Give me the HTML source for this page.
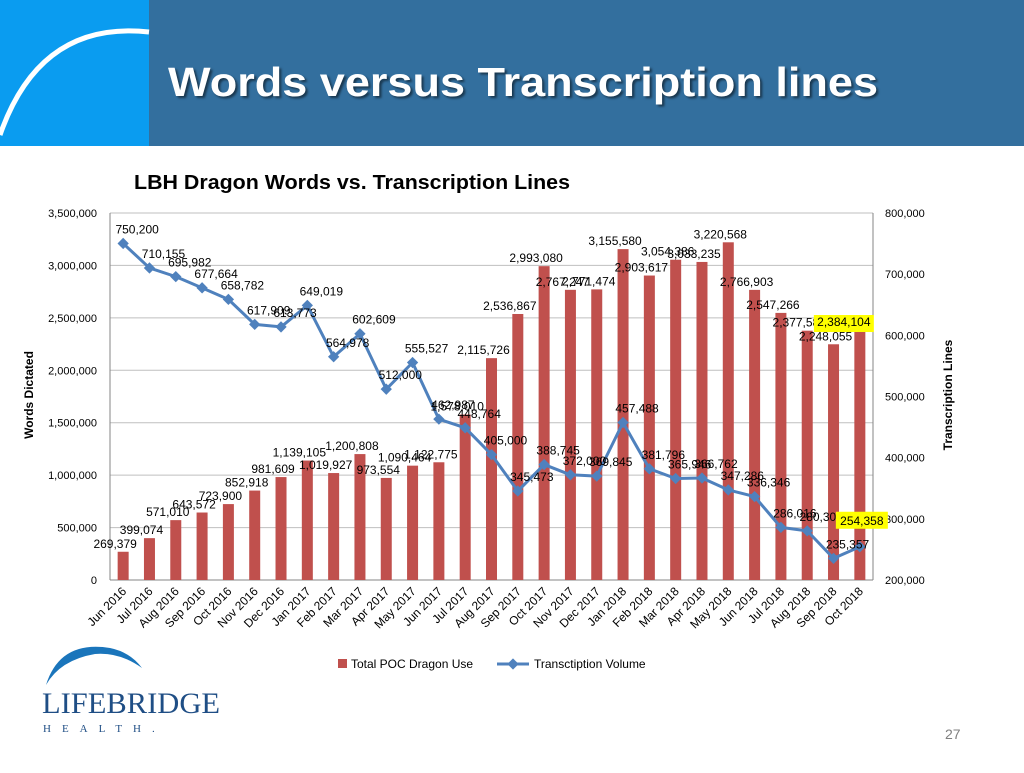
<!DOCTYPE html>
<html><head><meta charset="utf-8"><style>
body{margin:0;width:1024px;height:768px;overflow:hidden;background:#fff;font-family:"Liberation Sans",sans-serif}
</style></head><body>
<svg id="chart" width="1024" height="768" viewBox="0 0 1024 768" xmlns="http://www.w3.org/2000/svg" font-family="Liberation Sans, sans-serif">
<rect x="0" y="0" width="1024" height="146" fill="#336f9e"/>
<rect x="0" y="0" width="149" height="146" fill="#0a9cf0"/>
<path d="M0,135 Q40,20 149,32" stroke="#fff" stroke-width="5" fill="none"/>
<text x="168" y="96" font-size="41" font-weight="bold" fill="#fff" textLength="710" lengthAdjust="spacingAndGlyphs" style="text-shadow:2px 2px 2px rgba(0,0,0,.5)">Words versus Transcription lines</text>
<text x="134" y="189" font-size="20" font-weight="bold" fill="#000" textLength="436" lengthAdjust="spacingAndGlyphs">LBH Dragon Words vs. Transcription Lines</text>
<g id="plot"></g>
<text transform="translate(33,395) rotate(-90)" text-anchor="middle" font-size="12" font-weight="bold">Words Dictated</text>
<text transform="translate(952,395) rotate(-90)" text-anchor="middle" font-size="12" font-weight="bold">Transcription Lines</text>
<g>
<rect x="338" y="659" width="9" height="9" fill="#c0504d"/>
<text x="351" y="668" font-size="12">Total POC Dragon Use</text>
<line x1="497" y1="664" x2="529" y2="664" stroke="#4f81bd" stroke-width="3"/>
<rect x="509" y="660" width="8" height="8" fill="#4f81bd" transform="rotate(45 513 664)"/>
<text x="534" y="668" font-size="12">Transctiption Volume</text>
</g>
<g>
<path d="M46,685 Q60,640 110,648 Q130,652 142,668 Q120,652 95,654 Q60,660 46,685Z" fill="#1a75bb"/>
<text x="42" y="713" font-family="Liberation Serif, serif" font-size="30" fill="#1f4e85" textLength="178" lengthAdjust="spacingAndGlyphs">LIFEBRIDGE</text>
<text x="43" y="732" font-family="Liberation Serif, serif" font-size="11" fill="#1f4e85" letter-spacing="11">HEALTH.</text>
</g>
<text x="945" y="739" font-size="14" fill="#7f7f7f">27</text>
</svg>
<script>
const categories=["Jun 2016","Jul 2016","Aug 2016","Sep 2016","Oct 2016","Nov 2016","Dec 2016","Jan 2017","Feb 2017","Mar 2017","Apr 2017","May 2017","Jun 2017","Jul 2017","Aug 2017","Sep 2017","Oct 2017","Nov 2017","Dec 2017","Jan 2018","Feb 2018","Mar 2018","Apr 2018","May 2018","Jun 2018","Jul 2018","Aug 2018","Sep 2018","Oct 2018"];
const wordsDictated=[269379,399074,571010,643572,723900,852918,981609,1139105,1019927,1200808,973554,1090464,1122775,1578010,2115726,2536867,2993080,2767247,2771474,3155580,2903617,3054386,3033235,3220568,2766903,2547266,2377580,2248055,2384104];
const transcriptionLines=[750200,710155,695982,677664,658782,617909,613773,649019,564978,602609,512000,555527,462987,448764,405000,345473,388745,372000,369845,457488,381796,365946,366762,347286,336346,286016,280309,235357,254358];
const leftTicks=[0,500000,1000000,1500000,2000000,2500000,3000000,3500000];
const rightTicks=[200000,300000,400000,500000,600000,700000,800000];
const X0=110,X1=873,Y0=580,Y1=213,LMAX=3500000,RMIN=200000,RMAX=800000;
const NS="http://www.w3.org/2000/svg";
const g=document.getElementById('plot');
const bw=(X1-X0)/categories.length;
const xC=i=>X0+bw*(i+0.5);
const yL=v=>Y0-(v/LMAX)*(Y0-Y1);
const yR=v=>Y0-((v-RMIN)/(RMAX-RMIN))*(Y0-Y1);
const fmt=v=>v.toLocaleString('en-US');
function mk(tag,attrs,txt){const e=document.createElementNS(NS,tag);for(const k in attrs)e.setAttribute(k,attrs[k]);if(txt!==undefined)e.textContent=txt;g.appendChild(e);return e;}
leftTicks.forEach(t=>{
  const l=mk('line',{x1:X0,x2:X1,y1:yL(t),y2:yL(t),stroke:t===0?'#868686':'#bfbfbf','stroke-width':1});
  
  
  const tx=mk('text',{x:97,y:yL(t)+4,'text-anchor':'end','font-size':11},fmt(t));
  
  
});
rightTicks.forEach(t=>{
  const tx=mk('text',{x:885,y:yR(t)+4,'font-size':11},fmt(t));
  
  
});
const la=mk('line',{x1:X0,x2:X0,y1:Y1,y2:Y0,stroke:'#868686'});


const ra=mk('line',{x1:X1,x2:X1,y1:Y1,y2:Y0,stroke:'#868686'});


wordsDictated.forEach((v,i)=>{
  const r=mk('rect',{x:xC(i)-5.5,y:yL(v),width:11,height:Y0-yL(v),fill:'#c0504d'});
  
  
});
categories.forEach((c,i)=>{
  const tx=mk('text',{transform:`translate(${xC(i)+4},${Y0+12}) rotate(-45)`,'text-anchor':'end','font-size':12},c);
  
  
});
const pts=transcriptionLines.map((v,i)=>xC(i)+','+yR(v)).join(' ');
const pl=mk('polyline',{points:pts,fill:'none',stroke:'#4f81bd','stroke-width':3,'stroke-linejoin':'round'});


transcriptionLines.forEach((v,i)=>{
  const m=mk('rect',{x:xC(i)-4,y:yR(v)-4,width:8,height:8,fill:'#4f81bd',transform:`rotate(45 ${xC(i)} ${yR(v)})`});
  
  
});
wordsDictated.forEach((v,i)=>{
  const last=i===wordsDictated.length-1;
  if(last){const b=mk('rect',{x:xC(i)-46,y:yL(v)-15,width:60,height:17,fill:'#ffff00'});}
  const tx=mk('text',{x:last?xC(i)-16:xC(i)-8,y:yL(v)-4,'text-anchor':'middle','font-size':12},fmt(v));
  
  
});
transcriptionLines.forEach((v,i)=>{
  const last=i===transcriptionLines.length-1;
  if(last){const b=mk('rect',{x:xC(i)-24,y:yR(v)-35,width:52,height:17,fill:'#ffff00'});}
  const tx=mk('text',{x:last?xC(i)+2:xC(i)+14,y:last?yR(v)-22:yR(v)-10,'text-anchor':'middle','font-size':12},fmt(v));
  
  
});
</script>
</body></html>
